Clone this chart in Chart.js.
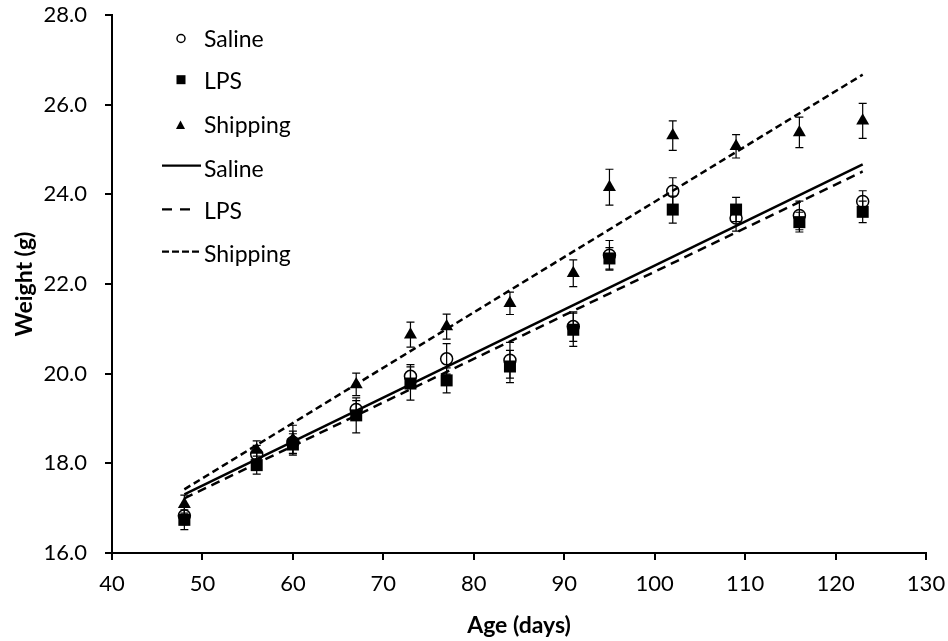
<!DOCTYPE html>
<html><head><meta charset="utf-8">
<script src="https://cdn.jsdelivr.net/npm/chart.js@4.4.1/dist/chart.umd.min.js"></script>
<style>
html,body{margin:0;padding:0;background:#fff;}
#wrap{position:relative;width:948px;height:641px;}
#legend{position:absolute;left:0;top:0;}
#legend text{font-family:Lato,sans-serif;font-size:23px;fill:#000;}
</style></head>
<body><div id="wrap"><canvas id="c" width="948" height="641"></canvas>
<svg id="legend" width="948" height="641">
 <circle cx="181" cy="38.5" r="4" fill="#fff" stroke="#000" stroke-width="1.5"/>
 <text x="204" y="46.7">Saline</text>
 <rect x="176.5" y="75.2" width="9" height="9" fill="#000"/>
 <text x="204" y="89.3">LPS</text>
 <polygon points="180.5,120.5 185,129 176,129" fill="#000"/>
 <text x="204" y="132.7">Shipping</text>
 <line x1="162" y1="165.7" x2="201" y2="165.7" stroke="#000" stroke-width="2.3"/>
 <text x="204" y="176.7">Saline</text>
 <line x1="162" y1="209.3" x2="192" y2="209.3" stroke="#000" stroke-width="2.3" stroke-dasharray="10,8"/>
 <text x="204" y="219.3">LPS</text>
 <line x1="162" y1="251.7" x2="201" y2="251.7" stroke="#000" stroke-width="2.3" stroke-dasharray="7,3"/>
 <text x="204" y="261.7">Shipping</text>
</svg></div>
<script>
const ages = [48,56,60,67,73,77,84,91,95,102,109,116,123];
const saline = [16.83,18.2,18.47,19.2,19.94,20.33,20.3,21.05,22.64,24.07,23.47,23.53,23.84];
const lps = [16.74,17.96,18.42,19.07,19.78,19.85,20.16,20.98,22.57,23.66,23.66,23.38,23.61];
const shipping = [17.09,18.3,18.53,19.76,20.87,21.05,21.57,22.24,24.16,25.31,25.07,25.38,25.64];
const salineErr = [0.2,0.2,0.25,0.2,0.26,0.34,0.4,0.33,0.33,0.3,0.29,0.32,0.24];
const lpsErr = [0.22,0.2,0.24,0.39,0.37,0.28,0.36,0.37,0.24,0.3,0.27,0.22,0.24];
const shippingErr = [0.2,0.2,0.32,0.25,0.28,0.28,0.25,0.3,0.4,0.33,0.26,0.34,0.39];
const fitAges = [48,123];
const salineFit = [17.31,24.67];
const lpsFit = [17.22,24.51];
const shippingFit = [17.42,26.67];
const xTicks = [40,50,60,70,80,90,100,110,120,130];
const yTicks = [16,18,20,22,24,26,28];

const pts = (xs, ys) => xs.map((x,i)=>({x:x,y:ys[i]}));
const FONT = 'Lato, sans-serif';

const errorBars = {
  id:'errorBars',
  afterDatasetsDraw(chart){
    const ctx = chart.ctx, ys = chart.scales.y;
    chart.data.datasets.forEach((ds,di)=>{
      if(!ds.errors) return;
      const meta = chart.getDatasetMeta(di);
      ctx.save();
      ctx.strokeStyle = '#000'; ctx.lineWidth = 1.2;
      meta.data.forEach((el,i)=>{
        const v = ds.data[i].y, e = ds.errors[i];
        const top = ys.getPixelForValue(v+e), bot = ys.getPixelForValue(v-e);
        const x = el.x;
        ctx.beginPath();
        ctx.moveTo(x,top); ctx.lineTo(x,bot);
        ctx.moveTo(x-4,top); ctx.lineTo(x+4,top);
        ctx.moveTo(x-4,bot); ctx.lineTo(x+4,bot);
        ctx.stroke();
      });
      ctx.restore();
    });
  }
};

function noPad(s){ s.paddingTop = 0; s.paddingBottom = 0; s.paddingLeft = 0; s.paddingRight = 0; }

new Chart(document.getElementById('c'), {
  type:'scatter',
  data:{datasets:[
    {label:'Saline', data:pts(ages,saline), errors:salineErr, pointStyle:'circle', pointRadius:6, pointBackgroundColor:'#fff', pointBorderColor:'#000', pointBorderWidth:1.5, showLine:false, order:3},
    {label:'LPS', data:pts(ages,lps), errors:lpsErr, pointStyle:'rect', pointRadius:8.5, pointBackgroundColor:'#000', pointBorderColor:'#000', pointBorderWidth:0, showLine:false, order:2},
    {label:'Shipping', data:pts(ages,shipping), errors:shippingErr, pointStyle:'triangle', pointRadius:7.5, pointBackgroundColor:'#000', pointBorderColor:'#000', pointBorderWidth:0, showLine:false, order:1},
    {type:'line', label:'Saline fit', data:pts(fitAges,salineFit), borderColor:'#000', borderWidth:2.5, pointRadius:0, fill:false, order:0},
    {type:'line', label:'LPS fit', data:pts(fitAges,lpsFit), borderColor:'#000', borderWidth:2.5, borderDash:[9,6], pointRadius:0, fill:false, order:0},
    {type:'line', label:'Shipping fit', data:pts(fitAges,shippingFit), borderColor:'#000', borderWidth:2.5, borderDash:[7,4], pointRadius:0, fill:false, order:0}
  ]},
  options:{
    responsive:false, animation:false,
    layout:{padding:{top:15,right:22,left:0,bottom:0}},
    plugins:{legend:{display:false}, tooltip:{enabled:false}},
    scales:{
      x:{type:'linear', min:40, max:130,
        afterBuildTicks(s){ s.ticks = xTicks.map(v=>({value:v})); },
        afterFit(s){ s.height = 88; noPad(s); },
        border:{color:'#000', width:2},
        grid:{drawOnChartArea:false, color:'#000', tickLength:7, lineWidth:2},
        ticks:{color:'#000', font:{family:FONT,size:22}, padding:11, maxRotation:0},
        title:{display:true, text:'Age (days)', color:'#000', font:{family:FONT,size:23,weight:'bold'}, padding:{top:0,bottom:2}}
      },
      y:{type:'linear', min:16, max:28,
        afterBuildTicks(s){ s.ticks = yTicks.map(v=>({value:v})); },
        afterFit(s){ s.width = 112; noPad(s); },
        border:{color:'#000', width:2},
        grid:{drawOnChartArea:false, color:'#000', tickLength:7, lineWidth:2},
        ticks:{color:'#000', font:{family:FONT,size:22}, padding:18, callback:v=>v.toFixed(1)},
        title:{display:true, text:'Weight (g)', color:'#000', font:{family:FONT,size:23,weight:'bold'}, padding:{top:11,bottom:0}}
      }
    }
  },
  plugins:[errorBars]
});
</script></body></html>
